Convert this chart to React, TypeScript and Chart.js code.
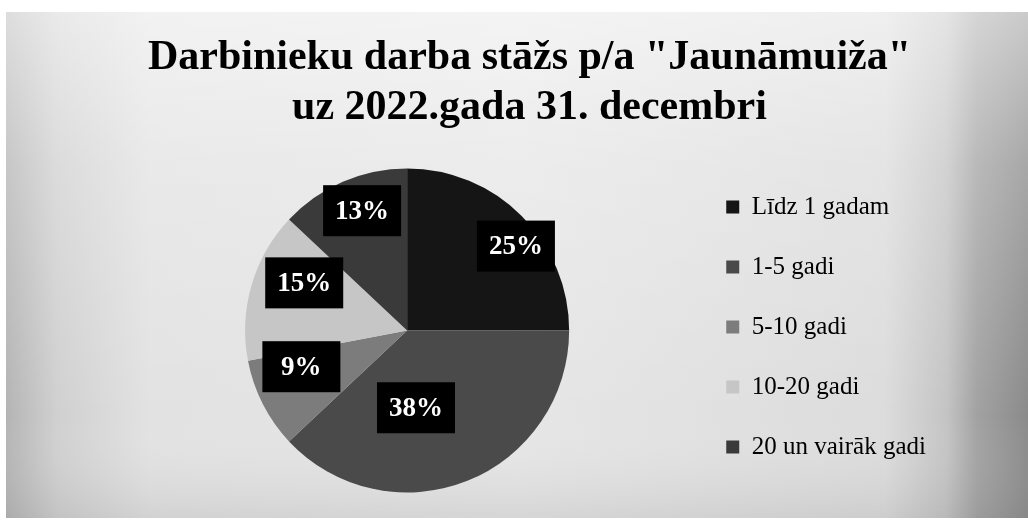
import { useEffect, useRef } from 'react';
import { Chart, registerables } from 'chart.js';

Chart.register(...registerables);

const TITLE_LINES = ['Darbinieku darba stāžs p/a "Jaunāmuiža"', 'uz 2022.gada 31. decembri'];
const CATEGORIES = ['Līdz 1 gadam', '1-5 gadi', '5-10 gadi', '10-20 gadi', '20 un vairāk gadi'];
const VALUES = [25, 38, 9, 15, 13];
const COLORS = ['#151515', '#4a4a4a', '#7c7c7c', '#c6c6c6', '#3a3a3a'];
// label placement inside each slice: fraction along the slice angle, fraction of the radius
const LABEL_ANGLE_FRAC = [0.58, 0.61, 0.75, 0.66, 0.56];
const LABEL_RADIUS_FRAC = [0.85, 0.48, 0.69, 0.7, 0.79];

const SERIF = '"Liberation Serif", "Times New Roman", serif';

const backgroundPlugin = {
  id: 'scanBackground',
  beforeDraw(chart: any) {
    const { ctx, width, height } = chart;
    ctx.save();
    ctx.fillStyle = '#ffffff';
    ctx.fillRect(0, 0, width, height);
    const g = ctx.createLinearGradient(6, 0, width, 0);
    g.addColorStop(0, '#b4b4b4');
    g.addColorStop(0.05, '#d0d0d0');
    g.addColorStop(0.14, '#e2e2e2');
    g.addColorStop(0.5, '#e6e6e6');
    g.addColorStop(0.86, '#dcdcdc');
    g.addColorStop(0.92, '#c4c4c4');
    g.addColorStop(0.95, '#a2a2a2');
    g.addColorStop(1, '#8a8a8a');
    ctx.fillStyle = g;
    ctx.fillRect(6, 12, width - 6, 506);
    const v = ctx.createLinearGradient(0, 12, 0, 518);
    v.addColorStop(0, 'rgba(255,255,255,0.55)');
    v.addColorStop(0.3, 'rgba(255,255,255,0.25)');
    v.addColorStop(0.8, 'rgba(255,255,255,0)');
    v.addColorStop(1, 'rgba(120,120,120,0.15)');
    ctx.fillStyle = v;
    ctx.fillRect(6, 12, width - 6, 506);
    ctx.restore();
  },
};

const labelPlugin = {
  id: 'boxLabels',
  afterDatasetsDraw(chart: any) {
    const ctx = chart.ctx;
    const meta = chart.getDatasetMeta(0);
    ctx.save();
    ctx.font = `bold 27px ${SERIF}`;
    ctx.textAlign = 'center';
    ctx.textBaseline = 'middle';
    meta.data.forEach((arc: any, i: number) => {
      const p = arc.getProps(['x', 'y', 'startAngle', 'endAngle', 'outerRadius'], true);
      const a = p.startAngle + (p.endAngle - p.startAngle) * LABEL_ANGLE_FRAC[i];
      const r = p.outerRadius * LABEL_RADIUS_FRAC[i];
      const cx = p.x + Math.cos(a) * r;
      const cy = p.y + Math.sin(a) * r;
      const w = 78;
      const h = 51;
      ctx.fillStyle = '#000000';
      ctx.fillRect(cx - w / 2, cy - h / 2, w, h);
      ctx.fillStyle = '#ffffff';
      ctx.fillText(`${VALUES[i]}%`, cx, cy + 1);
    });
    ctx.restore();
  },
};

export default function App() {
  const canvasRef = useRef<HTMLCanvasElement | null>(null);

  useEffect(() => {
    document.body.style.margin = '0';
    const canvas = canvasRef.current;
    if (!canvas) return;
    const chart = new Chart(canvas, {
      type: 'pie',
      data: {
        labels: CATEGORIES,
        datasets: [
          {
            data: VALUES,
            backgroundColor: COLORS,
            borderWidth: 0,
            radius: 162,
          },
        ],
      },
      options: {
        responsive: false,
        animation: false,
        devicePixelRatio: 1,
        layout: { padding: { left: 123, right: 92, top: 0, bottom: 0 } },
        plugins: {
          title: {
            display: true,
            text: TITLE_LINES,
            color: '#000000',
            font: { family: SERIF, size: 42, weight: 'bold', lineHeight: 50 / 42 },
            padding: { top: 33, bottom: 4 },
          },
          legend: {
            position: 'right',
            title: {
              display: true,
              text: ' ',
              font: { size: 10, lineHeight: 1 },
              padding: { top: 120, bottom: 0 },
            },
            labels: {
              color: '#000000',
              boxWidth: 13,
              boxHeight: 13,
              padding: 35,
              font: { family: SERIF, size: 25 },
            },
          },
          tooltip: { enabled: false },
        },
      },
      plugins: [backgroundPlugin, labelPlugin],
    });
    return () => chart.destroy();
  }, []);

  return (
    <div style={{ position: 'absolute', left: 0, top: 0, width: 1028, height: 524 }}>
      <canvas ref={canvasRef} width={1028} height={524} style={{ display: 'block' }} />
    </div>
  );
}
